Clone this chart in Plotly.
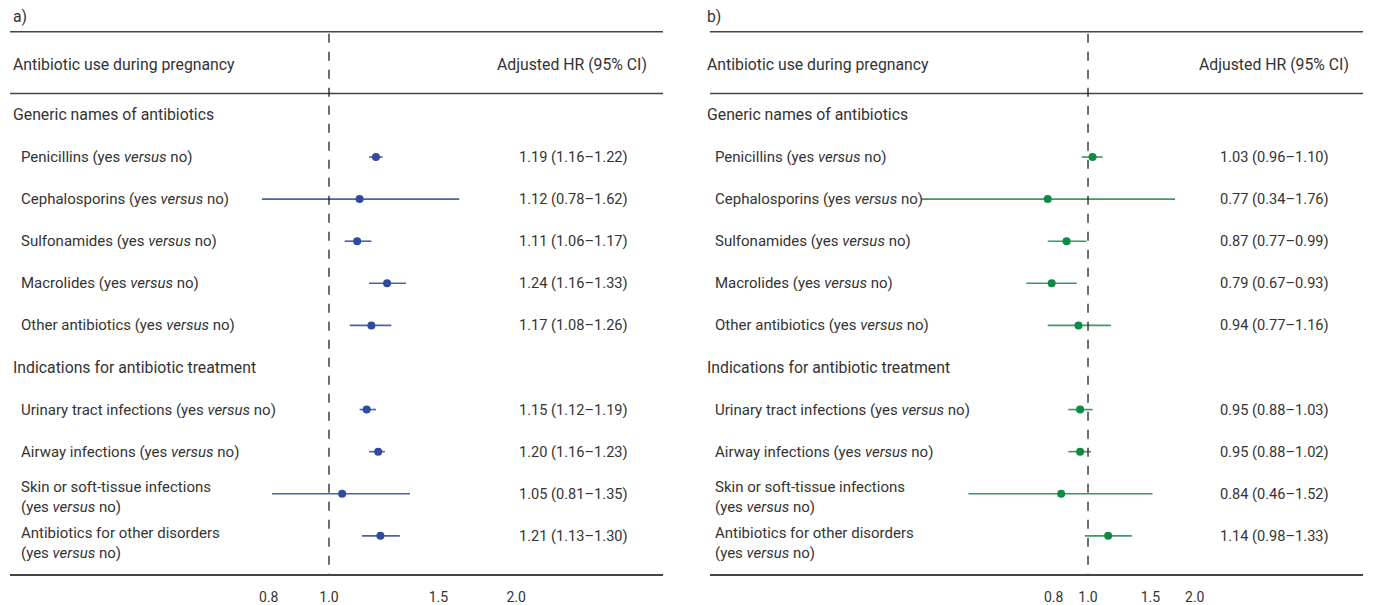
import plotly.graph_objects as go

# ---------------- data ----------------
row_labels = [
    "Generic names of antibiotics",
    "Penicillins (yes <i>versus</i> no)",
    "Cephalosporins (yes <i>versus</i> no)",
    "Sulfonamides (yes <i>versus</i> no)",
    "Macrolides (yes <i>versus</i> no)",
    "Other antibiotics (yes <i>versus</i> no)",
    "Indications for antibiotic treatment",
    "Urinary tract infections (yes <i>versus</i> no)",
    "Airway infections (yes <i>versus</i> no)",
    "Skin or soft-tissue infections<br>(yes <i>versus</i> no)",
    "Antibiotics for other disorders<br>(yes <i>versus</i> no)",
]
row_is_header = [True, False, False, False, False, False, True, False, False, False, False]
item_rows = [1, 2, 3, 4, 5, 7, 8, 9, 10]

a_hr = [1.19, 1.12, 1.11, 1.24, 1.17, 1.15, 1.20, 1.05, 1.21]
a_lo = [1.16, 0.78, 1.06, 1.16, 1.08, 1.12, 1.16, 0.81, 1.13]
a_hi = [1.22, 1.62, 1.17, 1.33, 1.26, 1.19, 1.23, 1.35, 1.30]

b_hr = [1.03, 0.77, 0.87, 0.79, 0.94, 0.95, 0.95, 0.84, 1.14]
b_lo = [0.96, 0.34, 0.77, 0.67, 0.77, 0.88, 0.88, 0.46, 0.98]
b_hi = [1.10, 1.76, 0.99, 0.93, 1.16, 1.03, 1.02, 1.52, 1.33]

tick_vals = [0.8, 1.0, 1.5, 2.0]
tick_text = ["0.8", "1.0", "1.5", "2.0"]

# ---------------- layout helpers ----------------
W, H = 1373, 605
FONT = "Roboto"
FS = 15        # row labels
FS_H = 15.8    # headers
FS_N = 14.6    # HR numbers
TXT = "#333333"
LINE = "#444444"
ROW0, ROWH = 115.5, 42.3   # pixel of row 0 and row pitch
AXIS_PX = 577


def px(x):
    return x / W


def row(pix):
    return (pix - ROW0) / ROWH


panels = [
    dict(xa="x", key="xaxis", dom=(10, 663), rng=(-0.5131, 0.5373), tag="a)",
         hr=a_hr, lo=a_lo, hi=a_hi, line="#4a62ad", dot="#2f4a9e",
         hdr_x=11, item_x=19, hrtxt_x=630, hrhdr_x=649),
    dict(xa="x2", key="xaxis2", dom=(710, 1363), rng=(-1.066, 0.7755), tag="b)",
         hr=b_hr, lo=b_lo, hi=b_hi, line="#3a9a60", dot="#0d8a43",
         hdr_x=705, item_x=713, hrtxt_x=1331, hrhdr_x=1351),
]

fig = go.Figure()
annotations = []
shapes = []

Y_TAG, Y_TOP, Y_HDR, Y_HDRLINE, Y_AXIS = row(17), row(32), row(65), row(94), row(AXIS_PX)

for p in panels:
    segx, segy = [], []
    for r, lo, hi in zip(item_rows, p["lo"], p["hi"]):
        segx += [lo, hi, None]
        segy += [r, r, None]
    fig.add_trace(go.Scatter(x=segx, y=segy, mode="lines", xaxis=p["xa"], yaxis="y",
                             line=dict(color=p["line"], width=1.6), hoverinfo="skip",
                             showlegend=False))
    fig.add_trace(go.Scatter(x=p["hr"], y=item_rows, mode="markers", xaxis=p["xa"], yaxis="y",
                             marker=dict(color=p["dot"], size=8), showlegend=False))

    for yy in (Y_TOP, Y_HDRLINE):
        shapes.append(dict(type="line", xref=p["xa"] + " domain", yref="y",
                           x0=0, x1=1, y0=yy, y1=yy, line=dict(color=LINE, width=1.5)))
    shapes.append(dict(type="line", xref=p["xa"], yref="y", x0=1, x1=1, y0=row(34),
                       y1=Y_AXIS, line=dict(color="#222222", width=1.3, dash="dash")))

    annotations.append(dict(text=p["tag"], x=px(p["hdr_x"]), xref="paper", y=Y_TAG, yref="y",
                            xanchor="left", yanchor="middle", showarrow=False,
                            font=dict(family=FONT, size=FS_H, color=TXT)))
    annotations.append(dict(text="Antibiotic use during pregnancy", x=px(p["hdr_x"]), xref="paper",
                            y=Y_HDR, yref="y", xanchor="left", yanchor="middle", showarrow=False,
                            font=dict(family=FONT, size=FS_H, color=TXT)))
    annotations.append(dict(text="Adjusted HR (95% CI)", x=px(p["hrhdr_x"]), xref="paper",
                            y=Y_HDR, yref="y", xanchor="right", yanchor="middle", showarrow=False,
                            font=dict(family=FONT, size=FS_H, color=TXT)))

    for i, (lab, is_h) in enumerate(zip(row_labels, row_is_header)):
        shift = 0
        if i == 9:
            shift = -3
        if i == 10:
            shift = -7
        annotations.append(dict(text=lab, x=px(p["hdr_x"] if is_h else p["item_x"]), xref="paper",
                                y=i, yref="y", xanchor="left", yanchor="middle", align="left",
                                yshift=shift, showarrow=False,
                                font=dict(family=FONT, size=FS_H if is_h else FS, color=TXT)))

    for r, hr, lo, hi in zip(item_rows, p["hr"], p["lo"], p["hi"]):
        annotations.append(dict(text=f"{hr:.2f} ({lo:.2f}\u2013{hi:.2f})", x=px(p["hrtxt_x"]),
                                xref="paper", y=r, yref="y", xanchor="right", yanchor="middle",
                                showarrow=False, font=dict(family=FONT, size=FS_N, color=TXT)))

xaxis_common = dict(type="log", showline=True, linecolor=LINE, linewidth=1.5, showgrid=False,
                    zeroline=False, tickvals=tick_vals, ticktext=tick_text, ticks="outside",
                    ticklen=9, tickcolor="rgba(0,0,0,0)",
                    tickfont=dict(family=FONT, size=14, color=TXT), anchor="y", fixedrange=True)

layout_axes = {}
for p in panels:
    ax = dict(xaxis_common)
    ax["domain"] = [px(p["dom"][0]), px(p["dom"][1])]
    ax["range"] = list(p["rng"])
    layout_axes[p["key"]] = ax

fig.update_layout(
    width=W, height=H,
    margin=dict(l=0, r=0, t=0, b=0),
    paper_bgcolor="white", plot_bgcolor="white",
    yaxis=dict(domain=[(H - AXIS_PX) / H, 1], range=[Y_AXIS, row(0)], visible=False,
               fixedrange=True),
    annotations=annotations, shapes=shapes,
    **layout_axes,
)

fig.write_html("out.html", config={"displayModeBar": False},
               post_script="document.body.style.margin='0';document.body.style.overflow='hidden';")
